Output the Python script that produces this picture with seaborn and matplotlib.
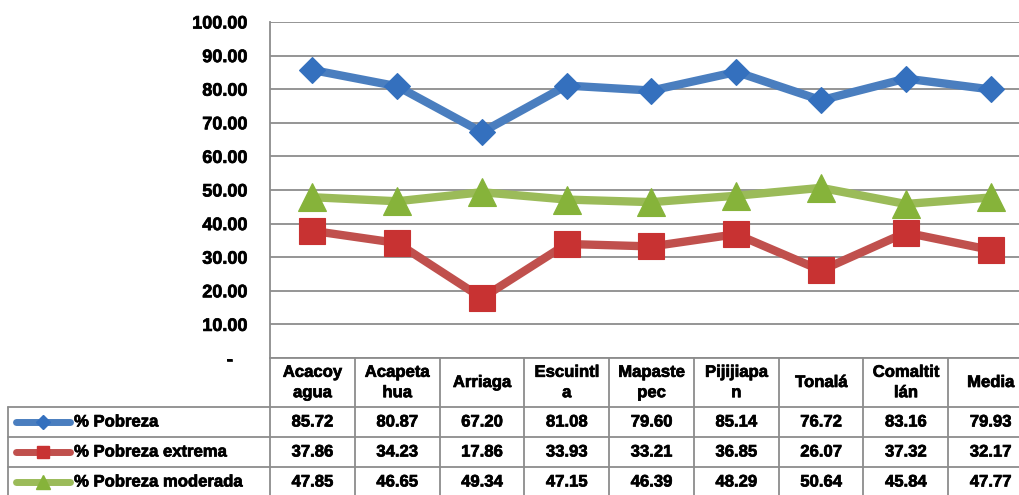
import matplotlib
matplotlib.use("Agg")
import matplotlib.pyplot as plt
import matplotlib.transforms as mtransforms
import matplotlib.patheffects as pe
from matplotlib.lines import Line2D
import seaborn as sns
import pandas as pd

# Municipality labels (wrapped the way they appear in the table header)
categories = ["Acacoy\nagua", "Acapeta\nhua", "Arriaga", "Escuintl\na", "Mapaste\npec",
              "Pijijiapa\nn", "Tonalá", "Comaltit\nlán", "Media"]

series_names = ["% Pobreza", "% Pobreza extrema", "% Pobreza moderada"]
pobreza = [85.72, 80.87, 67.20, 81.08, 79.60, 85.14, 76.72, 83.16, 79.93]
pobreza_extrema = [37.86, 34.23, 17.86, 33.93, 33.21, 36.85, 26.07, 37.32, 32.17]
pobreza_moderada = [47.85, 46.65, 49.34, 47.15, 46.39, 48.29, 50.64, 45.84, 47.77]

y_ticks = [0, 10, 20, 30, 40, 50, 60, 70, 80, 90, 100]

sns.set_theme(style="white")
plt.rcParams["font.family"] = ["Liberation Sans", "DejaVu Sans"]
plt.rcParams["font.weight"] = "bold"
plt.rcParams["text.color"] = "black"
plt.rcParams["ytick.color"] = "black"
plt.rcParams["ytick.labelcolor"] = "black"

# slight outline to give the bold text a heavier look
heavy = [pe.withStroke(linewidth=0.5, foreground="black")]

fig = plt.figure(figsize=(10.2, 4.95), dpi=100)
# plot area; the right-most column runs slightly past the canvas edge
ax = fig.add_axes([270 / 1020, 1 - 358 / 495, 763 / 1020, 336 / 495])

styles = [
    (pobreza, "#4A7EBF", "#3470BE", "D", 13.5),
    (pobreza_extrema, "#C0504D", "#C83232", "s", 18.5),
    (pobreza_moderada, "#9BBB59", "#86B33A", "^", 19.5),
]

x_pos = list(range(len(categories)))
for name, (vals, lc, mc, mk, ms) in zip(series_names, styles):
    df = pd.DataFrame({"x": x_pos, "y": vals})
    sns.lineplot(data=df, x="x", y="y", ax=ax, color=lc, linewidth=6,
                 marker=mk, markersize=ms, markerfacecolor=mc,
                 markeredgecolor=mc, markeredgewidth=0.8, zorder=3,
                 legend=False, solid_joinstyle="miter")

ax.set_xlim(-0.5, len(categories) - 0.5)
ax.set_ylim(0, 100)
ax.set_yticks(y_ticks)
ax.set_yticklabels([f"{v:.2f}" if v else "-   " for v in y_ticks],
                   fontsize=13, fontweight="bold", color="black")
for lbl in ax.get_yticklabels():
    lbl.set_path_effects(heavy)
ax.tick_params(axis="y", length=0, pad=16)
ax.set_xticks([])
ax.set_xlabel("")
ax.set_ylabel("")

grid_col = "#8C8C8C"
ax.yaxis.grid(True, color=grid_col, linewidth=1.3)
for side in ["top", "right", "bottom"]:
    ax.spines[side].set_visible(False)
ax.spines["left"].set_color(grid_col)
ax.spines["left"].set_linewidth(1.3)
ax.set_facecolor("white")

# ---- data table under the plot ----
trans = mtransforms.blended_transform_factory(ax.transData, ax.transAxes)
px = 1 / 336  # one pixel in axes-height units
header_bot = -49 * px
row_h = 30 * px
rows_bot = [header_bot - row_h * (i + 1) for i in range(3)]
table_bottom = header_bot - row_h * 3.2
left_x = -0.5 - 262 / 84.8
n = len(categories)

line_kw = dict(color=grid_col, linewidth=1.3, transform=trans, clip_on=False)
# horizontal rules
ax.add_line(Line2D([-0.5, n - 0.5], [0, 0], **line_kw))
ax.add_line(Line2D([left_x, n - 0.5], [header_bot, header_bot], **line_kw))
for yb in rows_bot[:-1]:
    ax.add_line(Line2D([left_x, n - 0.5], [yb, yb], **line_kw))
# vertical rules
for i in range(n + 1):
    ax.add_line(Line2D([i - 0.5, i - 0.5], [0, table_bottom], **line_kw))
ax.add_line(Line2D([left_x, left_x], [header_bot, table_bottom], **line_kw))

# header text
for i, cat in enumerate(categories):
    ax.text(i, header_bot / 2, cat, transform=trans, ha="center", va="center",
            fontsize=12, fontweight="bold", linespacing=1.45, clip_on=False,
            color="black", path_effects=heavy)

# series rows: legend key + values
all_vals = [pobreza, pobreza_extrema, pobreza_moderada]
for r, (name, vals, (v0, lc, mc, mk, ms)) in enumerate(zip(series_names, all_vals, styles)):
    yc = header_bot - row_h * (r + 0.5)
    key_x0 = left_x + 8 / 84.8
    key_x1 = left_x + 62 / 84.8
    ax.add_line(Line2D([key_x0, key_x1], [yc, yc], color=lc, linewidth=5,
                       solid_capstyle="round", transform=trans, clip_on=False))
    ax.add_line(Line2D([(key_x0 + key_x1) / 2], [yc], marker=mk,
                       markersize=ms * 0.5, color=mc, linestyle="none",
                       transform=trans, clip_on=False))
    ax.text(left_x + 66 / 84.8, yc, name, transform=trans, ha="left", va="center",
            fontsize=12, fontweight="bold", clip_on=False, color="black",
            path_effects=heavy)
    for i, v in enumerate(vals):
        ax.text(i, yc, f"{v:.2f}", transform=trans, ha="center", va="center",
                fontsize=12, fontweight="bold", clip_on=False, color="black",
                path_effects=heavy)

fig.savefig("out.png", dpi=100, facecolor="white")
